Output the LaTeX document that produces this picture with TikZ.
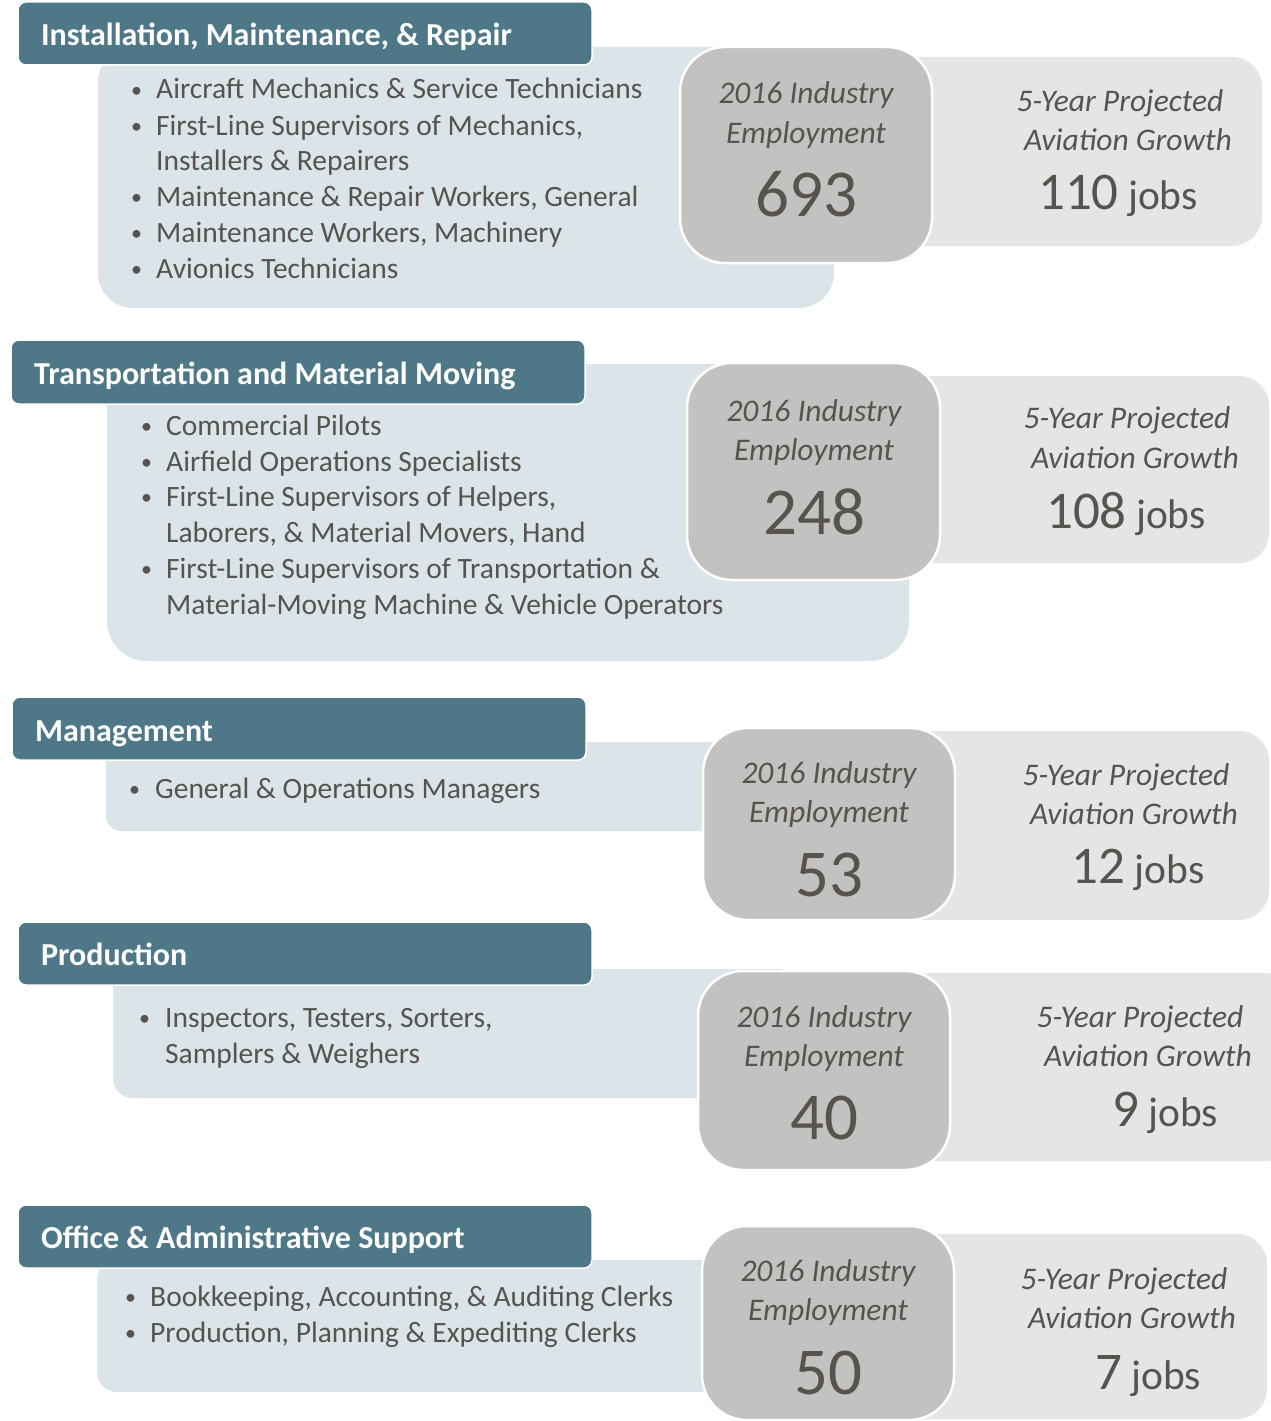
\documentclass[tikz,border=0pt]{standalone}
\usepackage{fontspec}
\setmainfont{Carlito}
\definecolor{hdr}{HTML}{4E7888}
\definecolor{lblue}{HTML}{DAE4E9}
\definecolor{dgray}{HTML}{C3C2C0}
\definecolor{lgray}{HTML}{E5E5E5}
\definecolor{txt}{HTML}{57534F}
\tikzset{
  shp/.style={anchor=north west, inner sep=0pt, outer sep=0pt},
  hdrbox/.style={shp, fill=hdr, draw=white, line width=1.5pt, rounded corners=8pt},
  lbbox/.style={shp, fill=lblue},
  lgbox/.style={shp, fill=lgray, rounded corners=30pt},
  dgbox/.style={shp, fill=dgray, draw=white, line width=2.5pt, rounded corners=45pt},
  htext/.style={anchor=base west, text=white, inner sep=0pt, font=\bfseries\fontsize{32}{32}\selectfont},
  btext/.style={anchor=base west, text=txt, inner sep=0pt, font=\fontsize{29.5}{35}\selectfont},
  bdot/.style={anchor=base west, text=txt, inner sep=0pt, font=\fontsize{22}{22}\selectfont},
  itext/.style={anchor=base, text=txt, inner sep=0pt, font=\itshape\fontsize{31.5}{36}\selectfont},
  ntext/.style={anchor=base, text=txt, inner sep=0pt, font=\fontsize{67}{67}\selectfont},
  jtext/.style={anchor=base, text=txt, inner sep=0pt, font=\fontsize{41.5}{41.5}\selectfont},
}
\newcommand\bigno[1]{{\fontsize{53}{53}\selectfont #1}}
\begin{document}
\begin{tikzpicture}[x=1pt,y=-1pt]
\useasboundingbox[fill=white] (0,0) rectangle (1270,1421);

% ---------- Block 1
\node[lbbox, minimum width=736pt, minimum height=261pt, rounded corners=35pt] (l1) at (98,47) {};
\node[hdrbox, minimum width=574pt, minimum height=63pt] (h1) at (18,2) {};
\node[lgbox, minimum width=462pt, minimum height=189pt] (g1) at (800,57) {};
\node[dgbox, minimum width=252pt, minimum height=216pt] (d1) at (680,47) {};
\node[htext] (h1t) at (41,46) {Installation, Maintenance, \& Repair};
\node[bdot] (l1b1) at (131,97) {•};
\node[btext] (l1t1) at (156,99) {Aircraft Mechanics \& Service Technicians};
\node[bdot] (l1b2) at (131,133) {•};
\node[btext] (l1t2) at (156,135) {First-Line Supervisors of Mechanics,};
\node[btext] (l1t3) at (156,170) {Installers \& Repairers};
\node[bdot] (l1b4) at (131,204) {•};
\node[btext] (l1t4) at (156,206) {Maintenance \& Repair Workers, General};
\node[bdot] (l1b5) at (131,240) {•};
\node[btext] (l1t5) at (156,242) {Maintenance Workers, Machinery};
\node[bdot] (l1b6) at (131,276) {•};
\node[btext] (l1t6) at (156,278) {Avionics Technicians};
\node[itext] (d1a) at (806,103) {2016 Industry};
\node[itext] (d1b) at (806,143) {Employment};
\node[ntext] (d1n) at (806,216) {693};
\node[itext] (g1a) at (1120,111) {5-Year Projected};
\node[itext] (g1b) at (1128,150) {Aviation Growth};
\node[jtext] (g1n) at (1118,209) {\bigno{110} jobs};

% ---------- Block 2
\node[lbbox, minimum width=802pt, minimum height=297pt, rounded corners=40pt] (l2) at (107,364) {};
\node[hdrbox, minimum width=574pt, minimum height=64pt] (h2) at (11,340) {};
\node[lgbox, minimum width=462pt, minimum height=187pt] (g2) at (807,376) {};
\node[dgbox, minimum width=253pt, minimum height=217pt] (d2) at (687,363) {};
\node[htext] (h2t) at (34,384) {Transportation and Material Moving};
\node[bdot] (l2b1) at (141,433) {•};
\node[btext] (l2t1) at (166,435) {Commercial Pilots};
\node[bdot] (l2b2) at (141,469) {•};
\node[btext] (l2t2) at (166,471) {Airfield Operations Specialists};
\node[bdot] (l2b3) at (141,504) {•};
\node[btext] (l2t3) at (166,506) {First-Line Supervisors of Helpers,};
\node[btext] (l2t4) at (166,542) {Laborers, \& Material Movers, Hand};
\node[bdot] (l2b5) at (141,576) {•};
\node[btext] (l2t5) at (166,578) {First-Line Supervisors of Transportation \&};
\node[btext] (l2t6) at (166,614) {Material-Moving Machine \& Vehicle Operators};
\node[itext] (d2a) at (814,421) {2016 Industry};
\node[itext] (d2b) at (814,460) {Employment};
\node[ntext] (d2n) at (814,534) {248};
\node[itext] (g2a) at (1127,428) {5-Year Projected};
\node[itext] (g2b) at (1135,468) {Aviation Growth};
\node[jtext] (g2n) at (1126,528) {\bigno{108} jobs};

% ---------- Block 3
\node[lbbox, minimum width=697pt, minimum height=89pt, rounded corners=15pt] (l3) at (106,742) {};
\node[hdrbox, minimum width=574pt, minimum height=63pt] (h3) at (12,697) {};
\node[lgbox, minimum width=449pt, minimum height=189pt] (g3) at (820,731) {};
\node[dgbox, minimum width=252pt, minimum height=192pt] (d3) at (703,728) {};
\node[htext] (h3t) at (35,741) {Management};
\node[bdot] (l3b1) at (129,796) {•};
\node[btext] (l3t1) at (155,798) {General \& Operations Managers};
\node[itext] (d3a) at (829,783) {2016 Industry};
\node[itext] (d3b) at (829,822) {Employment};
\node[ntext] (d3n) at (829,896) {53};
\node[itext] (g3a) at (1126,785) {5-Year Projected};
\node[itext] (g3b) at (1134,824) {Aviation Growth};
\node[jtext] (g3n) at (1138,883) {\bigno{12} jobs};

% ---------- Block 4
\node[lbbox, minimum width=685pt, minimum height=129pt, rounded corners=20pt] (l4) at (113,969) {};
\node[hdrbox, minimum width=574pt, minimum height=63pt] (h4) at (18,922) {};
\node[lgbox, minimum width=480pt, minimum height=188pt] (g4) at (815,973) {};
\node[dgbox, minimum width=252pt, minimum height=199pt] (d4) at (698,971) {};
\node[htext] (h4t) at (41,965) {Production};
\node[bdot] (l4b1) at (139,1025) {•};
\node[btext] (l4t1) at (165,1027) {Inspectors, Testers, Sorters,};
\node[btext] (l4t2) at (165,1063) {Samplers \& Weighers};
\node[itext] (d4a) at (824,1027) {2016 Industry};
\node[itext] (d4b) at (824,1066) {Employment};
\node[ntext] (d4n) at (824,1139) {40};
\node[itext] (g4a) at (1140,1027) {5-Year Projected};
\node[itext] (g4b) at (1148,1066) {Aviation Growth};
\node[jtext] (g4n) at (1165,1126) {\bigno{9} jobs};

% ---------- Block 5
\node[lbbox, minimum width=705pt, minimum height=132pt, rounded corners=20pt] (l5) at (97,1260) {};
\node[hdrbox, minimum width=574pt, minimum height=63pt] (h5) at (18,1205) {};
\node[lgbox, minimum width=447pt, minimum height=185pt] (g5) at (820,1234) {};
\node[dgbox, minimum width=252pt, minimum height=194pt] (d5) at (702,1226) {};
\node[htext] (h5t) at (41,1248) {Office \& Administrative Support};
\node[bdot] (l5b1) at (125,1304) {•};
\node[btext] (l5t1) at (150,1306) {Bookkeeping, Accounting, \& Auditing Clerks};
\node[bdot] (l5b2) at (125,1340) {•};
\node[btext] (l5t2) at (150,1342) {Production, Planning \& Expediting Clerks};
\node[itext] (d5a) at (828,1281) {2016 Industry};
\node[itext] (d5b) at (828,1320) {Employment};
\node[ntext] (d5n) at (828,1394) {50};
\node[itext] (g5a) at (1124,1289) {5-Year Projected};
\node[itext] (g5b) at (1132,1328) {Aviation Growth};
\node[jtext] (g5n) at (1148,1389) {\bigno{7} jobs};
\end{tikzpicture}
\end{document}
